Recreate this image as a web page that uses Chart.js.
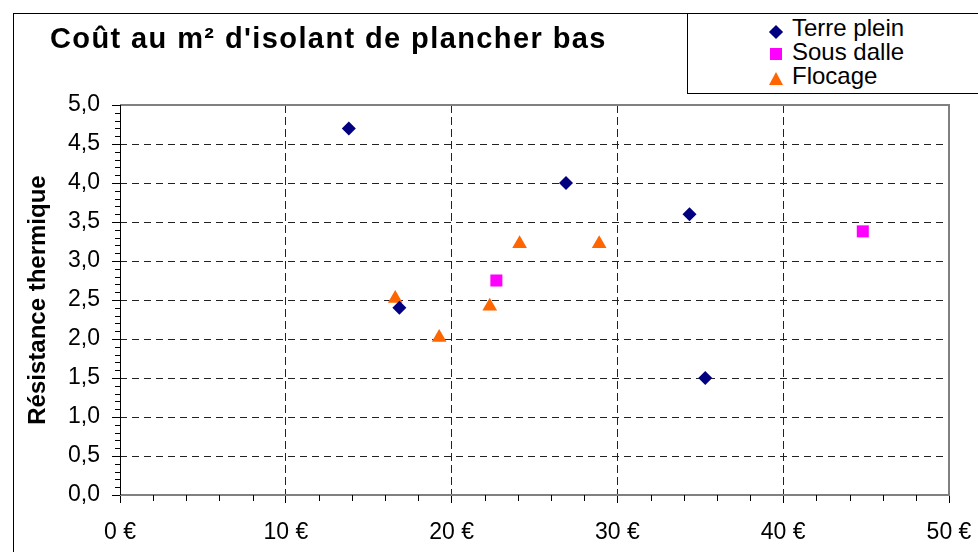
<!DOCTYPE html>
<html>
<head>
<meta charset="utf-8">
<script src="https://cdn.jsdelivr.net/npm/chart.js@4/dist/chart.umd.min.js"></script>
<style>
  body { margin: 0; background: #fff; overflow: hidden; font-family: "Liberation Sans", Arial, sans-serif; }
  #wrap { position: relative; width: 978px; height: 552px; }
  #titre { position: absolute; left: 50px; top: 24px; font-size: 29px; line-height: 28px; font-weight: bold; letter-spacing: 1.4px; white-space: nowrap; color: #000; }
  #legende { position: absolute; left: 687px; top: 13px; width: 320px; height: 79px; border: 1px solid #000; background: #fff; }
  .item { position: absolute; left: 104px; font-size: 24px; line-height: 24px; white-space: nowrap; color: #000; }
  .mk { position: absolute; }
</style>
</head>
<body>
<div id="wrap">
  <canvas id="myChart" width="978" height="552"></canvas>
  <div id="titre">Coût au m² d'isolant de plancher bas</div>
  <div id="legende">
    <div class="mk" style="left:83px;top:13px;width:10px;height:10px;background:#000080;transform:rotate(45deg)"></div>
    <div class="item" style="top:2px">Terre plein</div>
    <div class="mk" style="left:82px;top:34px;width:12px;height:12px;background:#FF00FF"></div>
    <div class="item" style="top:26px">Sous dalle</div>
    <div class="mk" style="left:81px;top:58px;width:0;height:0;border-left:7px solid transparent;border-right:7px solid transparent;border-bottom:13px solid #FF6600"></div>
    <div class="item" style="top:50px">Flocage</div>
  </div>
</div>
<script>
// Coût (€/m²) et résistance thermique
var terrePleinX = [13.8, 16.85, 26.9, 34.35, 35.3];
var terrePleinY = [4.7, 2.4, 4.0, 3.6, 1.5];
var sousDalleX = [22.7, 44.8];
var sousDalleY = [2.75, 3.38];
var flocageX = [16.6, 19.25, 22.3, 24.1, 28.9];
var flocageY = [2.52, 2.02, 2.42, 3.22, 3.22];

function points(xs, ys) {
    return xs.map(function(x, i) {
        return { x: x, y: ys[i] };
    });
}

var police = "'Liberation Sans', Arial, sans-serif";

// cadre, traits secondaires
var cadrePlugin = {
    id: "cadre",
    beforeDatasetsDraw: function(chart) {
        var ctx = chart.ctx;
        var a = chart.chartArea;
        var sx = chart.scales.x, sy = chart.scales.y;
        ctx.save();
        // bordure du graphique
        ctx.strokeStyle = "#000";
        ctx.lineWidth = 1;
        ctx.strokeRect(13.5, 13.5, 1000, 600);
        // zone de traçage
        ctx.strokeStyle = "#808080";
        ctx.lineWidth = 2;
        ctx.beginPath();
        ctx.moveTo(a.left, a.top);
        ctx.lineTo(a.right, a.top);
        ctx.lineTo(a.right, a.bottom);
        ctx.lineTo(a.left, a.bottom);
        ctx.stroke();
        ctx.strokeStyle = "#000";
        ctx.lineWidth = 1;
        ctx.beginPath();
        ctx.moveTo(a.left + 0.5, a.top);
        ctx.lineTo(a.left + 0.5, a.bottom);
        // graduations secondaires
        for (var i = 1; i < 50; i++) {
            if (i % 5 === 0) continue;
            var py = Math.round(sy.getPixelForValue(i / 10)) + 0.5;
            ctx.moveTo(a.left - 5, py);
            ctx.lineTo(a.left, py);
        }
        for (var j = 2; j < 50; j += 2) {
            if (j % 10 === 0) continue;
            var px = Math.round(sx.getPixelForValue(j)) + 0.5;
            ctx.moveTo(px, a.bottom);
            ctx.lineTo(px, a.bottom + 6);
        }
        ctx.stroke();
        ctx.restore();
    }
};

function couleurGrille(max) {
    return function(c) {
        if (c.tick && (c.tick.value === 0 || c.tick.value === max)) return "rgba(0,0,0,0)";
        return "#222";
    };
}

var ctx = document.getElementById("myChart").getContext("2d");
var myChart = new Chart(ctx, {
    type: "scatter",
    data: {
        datasets: [
            {
                label: "Terre plein",
                data: points(terrePleinX, terrePleinY),
                pointStyle: "rectRot",
                pointRadius: 7,
                pointHoverRadius: 7,
                backgroundColor: "#000080",
                borderColor: "#000080",
                borderWidth: 0
            },
            {
                label: "Sous dalle",
                data: points(sousDalleX, sousDalleY),
                pointStyle: "rect",
                pointRadius: 8.5,
                pointHoverRadius: 8.5,
                backgroundColor: "#FF00FF",
                borderColor: "#FF00FF",
                borderWidth: 0
            },
            {
                label: "Flocage",
                data: points(flocageX, flocageY),
                pointStyle: "triangle",
                pointRadius: 8.5,
                pointHoverRadius: 8.5,
                backgroundColor: "#FF6600",
                borderColor: "#FF6600",
                borderWidth: 0
            }
        ]
    },
    options: {
        responsive: false,
        animation: false,
        layout: { padding: { left: 24, top: 105, right: 29, bottom: 0 } },
        plugins: {
            legend: { display: false },
            tooltip: { enabled: false }
        },
        scales: {
            x: {
                type: "linear",
                min: 0,
                max: 50,
                afterFit: function(s) {
                    s.height = 57;
                    s.paddingLeft = 0;
                    s.paddingRight = 0;
                },
                ticks: {
                    stepSize: 10,
                    color: "#000",
                    padding: 16,
                    font: { family: police, size: 23 },
                    callback: function(v) { return v + " €"; }
                },
                grid: {
                    color: couleurGrille(50),
                    lineWidth: 1,
                    tickColor: "#000",
                    tickLength: 8,
                    tickBorderDash: []
                },
                border: { display: false, dash: [8, 4] }
            },
            y: {
                type: "linear",
                min: 0,
                max: 5,
                afterFit: function(s) {
                    s.width = 96;
                    s.paddingTop = 0;
                    s.paddingBottom = 0;
                },
                title: {
                    display: true,
                    text: "Résistance thermique",
                    color: "#000",
                    font: { family: police, size: 24, weight: "bold" },
                    padding: { top: 0, bottom: 0 }
                },
                ticks: {
                    stepSize: 0.5,
                    color: "#000",
                    padding: 12,
                    font: { family: police, size: 23 },
                    callback: function(v) { return v.toFixed(1).replace(".", ","); }
                },
                grid: {
                    color: couleurGrille(5),
                    lineWidth: 1,
                    tickColor: "#000",
                    tickLength: 8,
                    tickBorderDash: []
                },
                border: { display: false, dash: [7, 5] }
            }
        }
    },
    plugins: [cadrePlugin]
});
</script>
</body>
</html>
